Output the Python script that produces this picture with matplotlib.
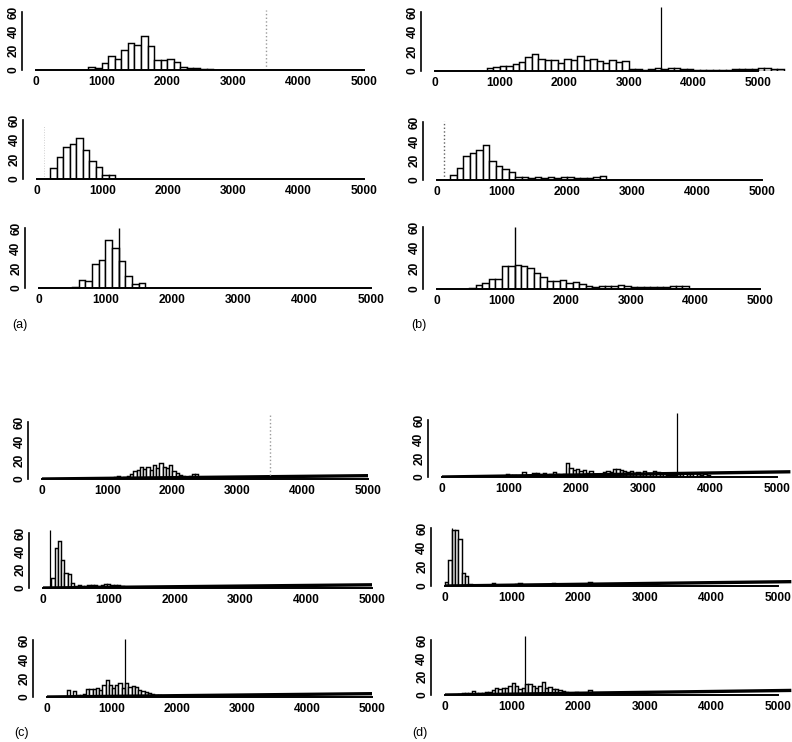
import matplotlib
matplotlib.use("Agg")
import matplotlib.pyplot as plt

# ---- counts: each histogram is (first bin edge, bin width, counts)
a1_start, a1_width = 800, 100
a1_counts = [3, 2, 7, 14, 11, 21, 28, 26, 35, 25, 10, 10, 11, 8, 3, 2, 2, 1, 1]
a2_start, a2_width = 200, 100
a2_counts = [11, 22, 33, 36, 42, 30, 18, 12, 4, 4]
a3_start, a3_width = 500, 100
a3_counts = [1, 8, 7, 24, 28, 48, 40, 27, 12, 4, 5]

b1_start, b1_width = 800, 100
b1_counts = [3, 4, 5, 5, 7, 9, 14, 17, 12, 11, 11, 8, 12, 11, 15, 11, 12, 10, 8, 11, 9, 10,
             2, 2, 1, 2, 3, 2, 3, 3, 2, 2, 1, 1, 1, 1, 1, 1, 2, 2, 2, 2, 3, 3, 2, 2]
b2_start, b2_width = 200, 100
b2_counts = [5, 12, 25, 28, 31, 36, 20, 15, 11, 8,
             3, 3, 2, 3, 2, 3, 2, 3, 3, 2, 2, 2, 3, 4]
b3_start, b3_width = 500, 100
b3_counts = [1, 4, 6, 10, 10, 22, 22, 23, 22, 20, 15, 12, 8, 8, 9, 6, 7, 5, 3,
             2, 3, 3, 3, 4, 3, 2, 2, 2, 2, 2, 2, 3, 3, 3]

c1_start, c1_width = 1100, 50
c1_counts = [2, 3, 1, 2, 3, 5, 8, 10, 13, 11, 13, 10, 15, 12, 17, 13, 12, 15, 8, 6,
             4, 3, 2, 3, 5, 5]
c2_start, c2_width = 125, 50
c2_counts = [11, 44, 51, 31, 16, 15, 5, 2, 3, 2, 2, 3, 3, 3, 2, 3, 4, 4, 3, 3, 3, 2]
c3_start, c3_width = 300, 50
c3_counts = [7, 1, 6, 2, 2, 3, 8, 8, 8, 10, 7, 13, 18, 13, 9, 13, 15, 10, 15, 11,
             12, 11, 7, 6, 5, 4, 3, 2, 2]

d1_start, d1_width = 950, 50
d1_counts = [3, 2, 2, 1, 1, 5, 2, 1, 4, 4, 3, 4, 2, 3, 5, 3, 2, 3, 15, 9,
             7, 8, 6, 7, 4, 6, 3, 2, 2, 5, 6, 5, 8, 8, 7, 6, 5, 6, 4, 5,
             3, 6, 4, 3, 6, 5, 3, 4, 2, 2, 2, 3, 3, 4, 3, 3, 4, 3, 2, 3, 2]
d2_start, d2_width = 0, 50
d2_counts = [4, 27, 58, 58, 49, 13, 10, 2, 1, 1, 1, 1, 1, 1, 3, 1, 1, 1, 1, 1,
             1, 2, 3, 1, 1, 1, 1, 1, 1, 1, 1, 1, 3, 1, 1, 1, 1, 1, 1, 1, 1, 1, 1, 4, 1]
d3_start, d3_width = 200, 50
d3_counts = [1, 2, 2, 2, 4, 2, 2, 2, 3, 3, 6, 8, 7, 8, 8, 10, 13, 10, 7, 8,
             12, 12, 10, 8, 10, 14, 8, 9, 7, 7, 5, 4, 3, 2, 2, 3, 2, 1, 1, 5, 2]

# true value marked by the vertical line, and its drawn height
true_x = {"a": [3500, 100, 1200], "b": [3500, 100, 1200],
          "c": [3500, 100, 1200], "d": [3500, 100, 1200]}
true_top = {"a": [62, 55, 60], "b": [65, 61, 60],
            "c": [68, 63, 61], "d": [67, 60, 64]}

# low rising curve along the floor (end x, end height), starts at (0, 0)
floor_end = {"c": [(5000, 3.5), (5000, 3.5), (5000, 3.5)],
             "d": [(5200, 5.5), (5200, 4.5), (5200, 5.0)]}

hists = {
    "a": [(a1_start, a1_width, a1_counts), (a2_start, a2_width, a2_counts), (a3_start, a3_width, a3_counts)],
    "b": [(b1_start, b1_width, b1_counts), (b2_start, b2_width, b2_counts), (b3_start, b3_width, b3_counts)],
    "c": [(c1_start, c1_width, c1_counts), (c2_start, c2_width, c2_counts), (c3_start, c3_width, c3_counts)],
    "d": [(d1_start, d1_width, d1_counts), (d2_start, d2_width, d2_counts), (d3_start, d3_width, d3_counts)],
}

# line styles of the vertical marker per panel
true_style = {
    "a": [dict(color="#9a9a9a", ls=":", lw=1.0), dict(color="#d0d0d0", ls=":", lw=0.7), dict(color="black", lw=1.0)],
    "b": [dict(color="black", lw=0.9), dict(color="#606060", ls=":", lw=1.0), dict(color="black", lw=1.0)],
    "c": [dict(color="#9a9a9a", ls=":", lw=1.0), dict(color="black", lw=0.9), dict(color="black", lw=0.9)],
    "d": [dict(color="black", lw=0.9), dict(color="black", lw=0.9), dict(color="black", lw=0.9)],
}

# pixel geometry of each panel: x of 0, x of 5000, y of count 0, y of count 60
geom = {
    "a": [(36, 364, 70, 12), (37, 364, 179, 120), (39, 371, 288, 228)],
    "b": [(435, 758, 71, 12), (437, 762, 180, 122), (437, 760, 289, 227)],
    "c": [(42, 368, 479, 422), (43, 372, 588, 533), (47, 372, 697, 640)],
    "d": [(442, 777, 477, 420), (445, 778, 586, 528), (445, 778, 695, 640)],
}
label_pos = {"a": (12, 325), "b": (411, 325), "c": (14, 733), "d": (412, 733)}

W, H = 792, 742
XL, XR, YT = -210, 5450, 70
TICK_FONT = dict(family=["Liberation Sans", "DejaVu Sans"], weight="bold", size=8.6)

fig = plt.figure(figsize=(W / 100, H / 100), dpi=100)

for key in "abcd":
    for i in range(3):
        px0, px5, py0, py60 = geom[key][i]
        sx = (px5 - px0) / 5000.0
        sy = (py0 - py60) / 60.0
        left = px0 + XL * sx
        right = px0 + XR * sx
        top = py0 - YT * sy
        ax = fig.add_axes([left / W, 1 - py0 / H, (right - left) / W, (py0 - top) / H])
        ax.set_xlim(XL, XR)
        ax.set_ylim(0, YT)

        start, width, counts = hists[key][i]
        edges = [start + k * width for k in range(len(counts))]
        ax.bar(edges, counts, width=width, align="edge", facecolor="white",
               edgecolor="black", linewidth=1.05, zorder=2)

        if key in floor_end:
            xe, ye = floor_end[key][i]
            ax.plot([0, xe], [0, ye], color="black", lw=2.4, solid_capstyle="butt", zorder=3)

        ax.vlines(true_x[key][i], 0, true_top[key][i], zorder=4, **true_style[key][i])

        for side in ("top", "right"):
            ax.spines[side].set_visible(False)
        ax.spines["bottom"].set_bounds(0, 5000)
        ax.spines["left"].set_bounds(0, 60)
        ax.spines["bottom"].set_linewidth(1.4)
        ax.spines["left"].set_linewidth(1.2)
        ax.spines["bottom"].set_zorder(5)

        ax.set_xticks([0, 1000, 2000, 3000, 4000, 5000])
        ax.set_yticks([0, 20, 40, 60])
        ax.tick_params(axis="x", length=0, pad=4)
        ax.tick_params(axis="y", length=0, pad=2)
        for t in ax.get_xticklabels():
            t.set(**TICK_FONT)
        for t in ax.get_yticklabels():
            t.set(**TICK_FONT)
            t.set_rotation(90)
            t.set_va("center")
        ax.patch.set_visible(False)

    lx, ly = label_pos[key]
    fig.text(lx / W, 1 - ly / H, f"({key})", ha="left", va="center",
             family=["Liberation Sans", "DejaVu Sans"], size=9)

fig.savefig("out.png", dpi=100)
